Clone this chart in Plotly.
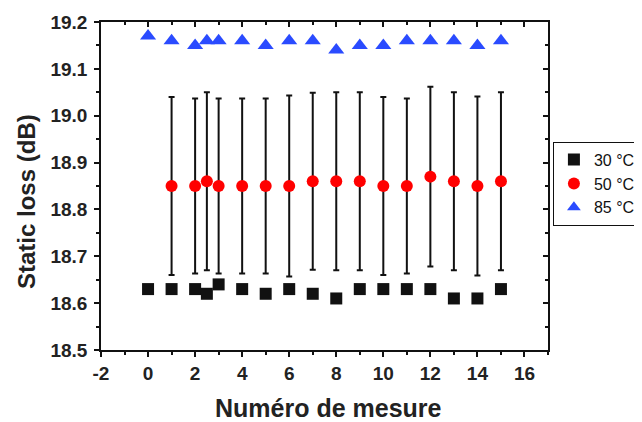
import plotly.graph_objects as go

x_all = [0, 1, 2, 2.5, 3, 4, 5, 6, 7, 8, 9, 10, 11, 12, 13, 14, 15]
y30 = [18.63, 18.63, 18.63, 18.62, 18.64, 18.63, 18.62, 18.63, 18.62, 18.61,
       18.63, 18.63, 18.63, 18.63, 18.61, 18.61, 18.63]
x50 = [1, 2, 2.5, 3, 4, 5, 6, 7, 8, 9, 10, 11, 12, 13, 14, 15]
y50 = [18.85, 18.85, 18.86, 18.85, 18.85, 18.85, 18.85, 18.86, 18.86, 18.86,
       18.85, 18.85, 18.87, 18.86, 18.85, 18.86]
err50 = [0.19, 0.187, 0.19, 0.187, 0.187, 0.187, 0.193, 0.189, 0.19, 0.19,
         0.19, 0.187, 0.192, 0.19, 0.191, 0.19]
y85 = [19.17, 19.16, 19.15, 19.16, 19.16, 19.16, 19.15, 19.16, 19.16, 19.14,
       19.15, 19.15, 19.16, 19.16, 19.16, 19.15, 19.16]
names = ["30 °C", "50 °C", "85 °C"]
x_ticks = [-2, 0, 2, 4, 6, 8, 10, 12, 14, 16]
x_ticklabels = ["-2", "0", "2", "4", "6", "8", "10", "12", "14", "16"]
y_ticks = [18.5, 18.6, 18.7, 18.8, 18.9, 19.0, 19.1, 19.2]
y_ticklabels = ["18.5", "18.6", "18.7", "18.8", "18.9", "19.0", "19.1", "19.2"]
x_title = "Numéro de mesure"
y_title = "Static loss (dB)"
x_range = [-2, 17]
y_range = [18.5, 19.2]

font = "Arial, Liberation Sans, sans-serif"
ink = "#111111"
text_col = "#222222"

fig = go.Figure()
fig.add_trace(go.Scatter(x=x_all, y=y30, mode="markers", name=names[0],
                         marker=dict(symbol="square", size=12, color=ink)))
fig.add_trace(go.Scatter(x=x50, y=y50, mode="markers", name=names[1],
                         marker=dict(symbol="circle", size=12, color="#ff0000"),
                         error_y=dict(type="data", array=err50, symmetric=True,
                                      color=ink, thickness=2, width=3)))
fig.add_trace(go.Scatter(x=x_all, y=y85, mode="markers", name=names[2],
                         marker=dict(symbol="triangle-up", size=14, color="#2a4bff")))
# transparent helper trace so the mirrored (top/right) axes are drawn
fig.add_trace(go.Scatter(x=[x_all[0]], y=[y30[0]], xaxis="x2", yaxis="y2",
                         showlegend=False, hoverinfo="skip", mode="markers",
                         marker=dict(opacity=0)))

axis_common = dict(showgrid=False, zeroline=False, linecolor=ink, linewidth=1.5,
                   tickcolor=ink, tickwidth=1.5, automargin=False, showline=True)
tickfont = dict(size=19, family=font, color=text_col, weight="bold")

fig.update_layout(
    width=634, height=414,
    margin=dict(l=93, r=94, t=14, b=72, autoexpand=False),
    paper_bgcolor="white", plot_bgcolor="white",
    font=dict(family=font, color=text_col),
    showlegend=True,
    legend=dict(x=1.011, y=0.635, xanchor="left", yanchor="top",
                bordercolor=ink, borderwidth=1, bgcolor="white",
                font=dict(size=16, family=font, color=ink),
                itemsizing="constant", itemwidth=30, tracegroupgap=0),
    xaxis=dict(range=x_range, tickvals=x_ticks, ticktext=x_ticklabels,
               ticks="outside", ticklen=5, tickfont=tickfont,
               minor=dict(ticks="outside", dtick=1, tick0=-2, ticklen=3, tickcolor=ink, tickwidth=1.5),
               **axis_common),
    yaxis=dict(range=y_range, tickvals=y_ticks, ticktext=y_ticklabels,
               ticks="outside", ticklen=5, tickfont=tickfont, ticklabelstandoff=3,
               minor=dict(ticks="outside", dtick=0.05, tick0=18.5, ticklen=3, tickcolor=ink, tickwidth=1.5),
               **axis_common),
    xaxis2=dict(overlaying="x", side="top", anchor="y2", range=x_range, tickvals=x_ticks,
                ticks="inside", ticklen=5, showticklabels=False,
                minor=dict(ticks="inside", dtick=1, tick0=-2, ticklen=3, tickcolor=ink, tickwidth=1.5),
                **axis_common),
    yaxis2=dict(overlaying="y", side="right", anchor="x2", range=y_range, tickvals=y_ticks,
                ticks="inside", ticklen=5, showticklabels=False,
                minor=dict(ticks="inside", dtick=0.05, tick0=18.5, ticklen=3, tickcolor=ink, tickwidth=1.5),
                **axis_common),
    annotations=[
        dict(text="<b>" + x_title + "</b>", xref="paper", yref="paper", x=0.508, y=-0.177,
             xanchor="center", yanchor="middle", showarrow=False,
             font=dict(size=25, family=font, color=text_col)),
        dict(text="<b>" + y_title + "</b>", xref="paper", yref="paper", x=-0.168, y=0.454,
             xanchor="center", yanchor="middle", showarrow=False, textangle=-90,
             font=dict(size=24, family=font, color=text_col)),
    ],
)

fig.write_html("out.html")
